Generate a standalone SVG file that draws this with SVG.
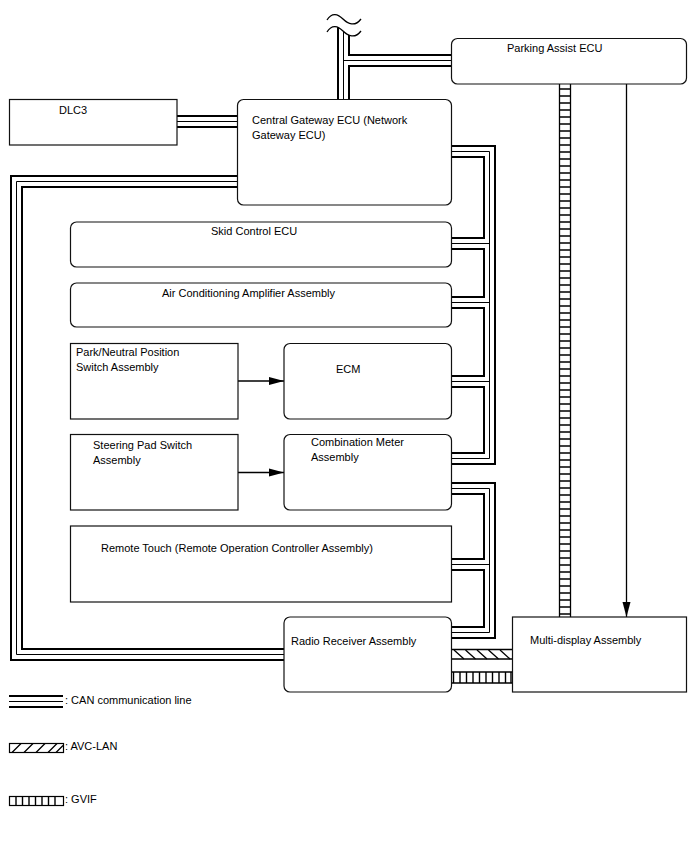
<svg xmlns="http://www.w3.org/2000/svg" xmlns:xlink="http://www.w3.org/1999/xlink" width="688" height="852" viewBox="0 0 688 852">
<style>
  .box{fill:#fff;stroke:#111;stroke-width:1.2}
  .t{font-family:"Liberation Sans",Arial,sans-serif;font-size:11px;fill:#000}
  .cO{fill:none;stroke:#000;stroke-width:13;stroke-linejoin:miter}
  .cW{fill:none;stroke:#fff;stroke-width:9;stroke-linejoin:miter}
  .cM{fill:none;stroke:#000;stroke-width:1;stroke-linejoin:miter}
  .ln{fill:none;stroke:#000;stroke-width:1.3}
  .rung{fill:none;stroke:#000;stroke-width:1.4}
  .sq{fill:none;stroke:#000;stroke-width:1.3}
</style>
<defs>
  <marker id="ah" markerUnits="userSpaceOnUse" markerWidth="16" markerHeight="10" refX="15" refY="4.5" orient="auto">
    <path d="M0,0.5 L15,4.5 L0,8.5 Z" fill="#000"/>
  </marker>
  <path id="can1" d="M343.5,26 V99 M343.5,60.5 H451"/>
  <path id="can2" d="M177,121.5 H237"/>
  <path id="can3" d="M237,181.5 H16.5 V654.5 H284"/>
  <path id="can4" d="M451,151.5 H489.5 V458.5 H451 M451,243.5 H490 M451,302.5 H490 M451,381.5 H490"/>
  <path id="can5" d="M451,488.5 H489.5 V632.5 H451 M451,564.5 H490"/>
  <path id="canL" d="M9,701.5 H63"/>
</defs>

<g id="connectors">
  <g id="can-lines">
    <use xlink:href="#can1" class="cO"/><use xlink:href="#can2" class="cO"/><use xlink:href="#can3" class="cO"/><use xlink:href="#can4" class="cO"/><use xlink:href="#can5" class="cO"/>
    <use xlink:href="#can1" class="cW"/><use xlink:href="#can2" class="cW"/><use xlink:href="#can3" class="cW"/><use xlink:href="#can4" class="cW"/><use xlink:href="#can5" class="cW"/>
    <use xlink:href="#can1" class="cM"/><use xlink:href="#can2" class="cM"/><use xlink:href="#can3" class="cM"/><use xlink:href="#can4" class="cM"/><use xlink:href="#can5" class="cM"/>
    <path d="M326,24.5 H362 V31 C355,39 348,36 343,31 C338,26 332,24 327,32 Z" fill="#fff"/>
    <path class="sq" d="M327,20 C332,12 338,14 343,19 C348,24 355,27 361,19"/>
    <path class="sq" d="M327,32 C332,24 338,26 343,31 C348,36 355,39 361,31"/>
  </g>
  <g id="gvif-vertical">
    <path class="ln" d="M559.5,84 V617 M570.5,84 V617"/>
    <path class="rung" d="M559,89 H571 M559,96 H571 M559,103 H571 M559,110 H571 M559,117 H571 M559,124 H571 M559,131 H571 M559,138 H571 M559,145 H571 M559,152 H571 M559,159 H571 M559,166 H571 M559,173 H571 M559,180 H571 M559,187 H571 M559,194 H571 M559,201 H571 M559,208 H571 M559,215 H571 M559,222 H571 M559,229 H571 M559,236 H571 M559,243 H571 M559,250 H571 M559,257 H571 M559,264 H571 M559,271 H571 M559,278 H571 M559,285 H571 M559,292 H571 M559,299 H571 M559,306 H571 M559,313 H571 M559,320 H571 M559,327 H571 M559,334 H571 M559,341 H571 M559,348 H571 M559,355 H571 M559,362 H571 M559,369 H571 M559,376 H571 M559,383 H571 M559,390 H571 M559,397 H571 M559,404 H571 M559,411 H571 M559,418 H571 M559,425 H571 M559,432 H571 M559,439 H571 M559,446 H571 M559,453 H571 M559,460 H571 M559,467 H571 M559,474 H571 M559,481 H571 M559,488 H571 M559,495 H571 M559,502 H571 M559,509 H571 M559,516 H571 M559,523 H571 M559,530 H571 M559,537 H571 M559,544 H571 M559,551 H571 M559,558 H571 M559,565 H571 M559,572 H571 M559,579 H571 M559,586 H571 M559,593 H571 M559,600 H571 M559,607 H571 M559,614 H571"/>
  </g>
  <g id="avc-lan">
    <path class="ln" d="M452,649.5 H512 M452,659 H512"/>
    <path class="ln" d="M454,650 L464,659 M465.5,650 L475.5,659 M477,650 L487,659 M488.5,650 L498.5,659 M500,650 L510,659"/>
  </g>
  <g id="gvif-horizontal">
    <path class="ln" d="M452,672 H512 M452,683 H512"/>
    <path class="rung" d="M453.5,672 V683 M460,672 V683 M466.5,672 V683 M473,672 V683 M479.5,672 V683 M486,672 V683 M492.5,672 V683 M499,672 V683 M505.5,672 V683 M511,672 V683"/>
  </g>
  <g id="arrows">
    <line class="ln" x1="626.5" y1="84" x2="626.5" y2="617" marker-end="url(#ah)"/>
    <line class="ln" x1="238" y1="381" x2="284" y2="381" marker-end="url(#ah)"/>
    <line class="ln" x1="238" y1="472.5" x2="284" y2="472.5" marker-end="url(#ah)"/>
  </g>
</g>

<g id="parking-assist-ecu"><rect class="box" x="451.5" y="38.5" width="235" height="45.5" rx="6"/><text class="t" x="507" y="52">Parking Assist ECU</text></g>
<g id="dlc3"><rect class="box" x="9.5" y="99.5" width="167.5" height="45.5"/><text class="t" x="59" y="114">DLC3</text></g>
<g id="central-gateway-ecu"><rect class="box" x="237.5" y="99.5" width="214" height="105.5" rx="6"/><text class="t" x="252" y="124">Central Gateway ECU (Network</text><text class="t" x="252" y="139">Gateway ECU)</text></g>
<g id="skid-control-ecu"><rect class="box" x="70.5" y="222" width="381" height="45" rx="6"/><text class="t" x="211" y="235">Skid Control ECU</text></g>
<g id="air-conditioning-amplifier"><rect class="box" x="70.5" y="283" width="381" height="44" rx="6"/><text class="t" x="162" y="297">Air Conditioning Amplifier Assembly</text></g>
<g id="park-neutral-switch"><rect class="box" x="70.5" y="343.5" width="167.5" height="75.5"/><text class="t" x="76" y="356">Park/Neutral Position</text><text class="t" x="76" y="371">Switch Assembly</text></g>
<g id="ecm"><rect class="box" x="284" y="343.5" width="167.5" height="75.5" rx="6"/><text class="t" x="336" y="373">ECM</text></g>
<g id="steering-pad-switch"><rect class="box" x="70.5" y="434.5" width="167.5" height="75.5"/><text class="t" x="93" y="449">Steering Pad Switch</text><text class="t" x="93" y="464">Assembly</text></g>
<g id="combination-meter"><rect class="box" x="284" y="434.5" width="167.5" height="75.5" rx="6"/><text class="t" x="311" y="446">Combination Meter</text><text class="t" x="311" y="461">Assembly</text></g>
<g id="remote-touch"><rect class="box" x="70.5" y="526" width="381" height="76"/><text class="t" x="101" y="552">Remote Touch (Remote Operation Controller Assembly)</text></g>
<g id="radio-receiver"><rect class="box" x="284" y="617" width="167.5" height="75" rx="6"/><text class="t" x="291" y="645">Radio Receiver Assembly</text></g>
<g id="multi-display"><rect class="box" x="512.5" y="617" width="174" height="75"/><text class="t" x="530" y="644">Multi-display Assembly</text></g>

<g id="legend">
  <use xlink:href="#canL" class="cO"/><use xlink:href="#canL" class="cW"/><use xlink:href="#canL" class="cM"/>
  <text class="t" x="65" y="704">: CAN communication line</text>
  <rect x="9.5" y="743.5" width="54" height="9" fill="#fff" stroke="#000" stroke-width="1.2"/>
  <path class="ln" d="M12,752.5 L21,743.5 M24,752.5 L33,743.5 M36,752.5 L45,743.5 M48,752.5 L57,743.5 M56,752.5 L63,745.5"/>
  <text class="t" x="65" y="750">: AVC-LAN</text>
  <rect x="9.5" y="796.5" width="54" height="9" fill="#fff" stroke="#000" stroke-width="1.2"/>
  <path class="rung" d="M16,796.5 V805.5 M22.5,796.5 V805.5 M29,796.5 V805.5 M35.5,796.5 V805.5 M42,796.5 V805.5 M48.5,796.5 V805.5 M55,796.5 V805.5"/>
  <text class="t" x="65" y="803">: GVIF</text>
</g>
</svg>
